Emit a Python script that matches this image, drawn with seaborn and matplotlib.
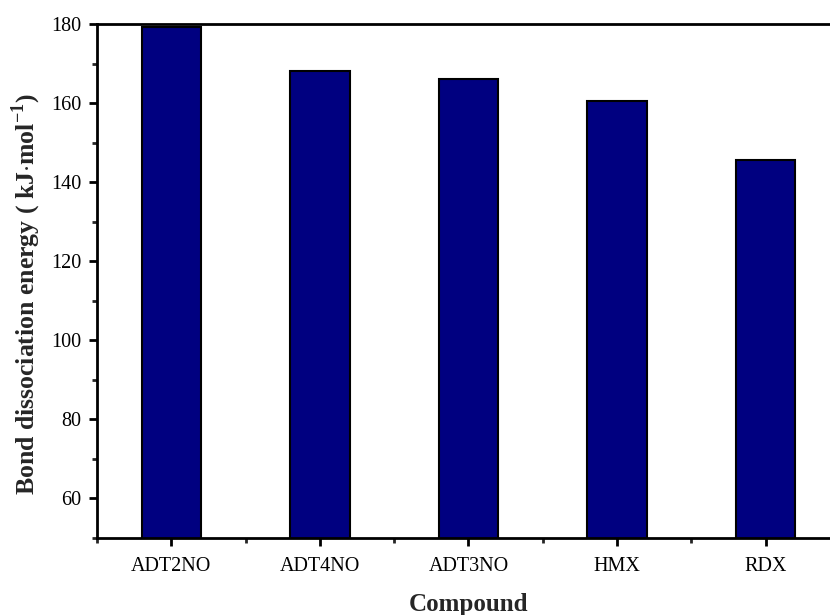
import matplotlib
matplotlib.use("Agg")
import matplotlib.pyplot as plt
import seaborn as sns
import pandas as pd
from matplotlib.ticker import MultipleLocator, FixedLocator

compounds = ["ADT2NO", "ADT4NO", "ADT3NO", "HMX", "RDX"]
energies = [179.3, 168.0, 166.1, 160.4, 145.5]
yticks = [60, 80, 100, 120, 140, 160, 180]

sns.set_theme(style="ticks")
plt.rcParams['font.family'] = ['Liberation Serif', 'DejaVu Serif']
plt.rcParams['mathtext.fontset'] = 'custom'
plt.rcParams['mathtext.rm'] = 'Liberation Serif'
plt.rcParams['mathtext.bf'] = 'Liberation Serif:bold'

df = pd.DataFrame({"Compound": compounds, "Energy": energies})

fig = plt.figure(figsize=(8.3, 6.15), dpi=100)
ax = fig.add_axes([0.1169, 0.1252, 0.895, 0.8358])

sns.barplot(data=df, x="Compound", y="Energy", color="#000080", saturation=1,
            width=0.4, edgecolor="black", linewidth=1.5, ax=ax)

ax.set_xlim(-0.5, 4.5)
ax.set_ylim(50, 180)
ax.set_yticks(yticks)
ax.yaxis.set_minor_locator(MultipleLocator(10))
ax.xaxis.set_minor_locator(FixedLocator([i + 0.5 for i in range(-1, len(compounds))]))

for side in ["left", "bottom", "top"]:
    ax.spines[side].set_linewidth(2)
    ax.spines[side].set_color("black")
ax.spines["right"].set_visible(False)

ax.tick_params(axis="both", which="major", direction="out", length=6, width=2,
               labelsize=14.5, colors="black", top=False, right=False)
ax.tick_params(axis="both", which="minor", direction="out", length=3.5, width=2,
               top=False, right=False)
ax.tick_params(axis="x", which="major", pad=8)
ax.tick_params(axis="y", which="major", pad=5)

ax.set_xlabel("Compound", fontsize=18, fontweight="bold", labelpad=12)
ax.set_ylabel(r"Bond dissociation energy ( kJ$\cdot$mol$^{\mathbf{-1}}$)",
              fontsize=18.5, fontweight="bold")
ax.yaxis.set_label_coords(-0.073, 0.475)

fig.savefig("out.png", dpi=100)
